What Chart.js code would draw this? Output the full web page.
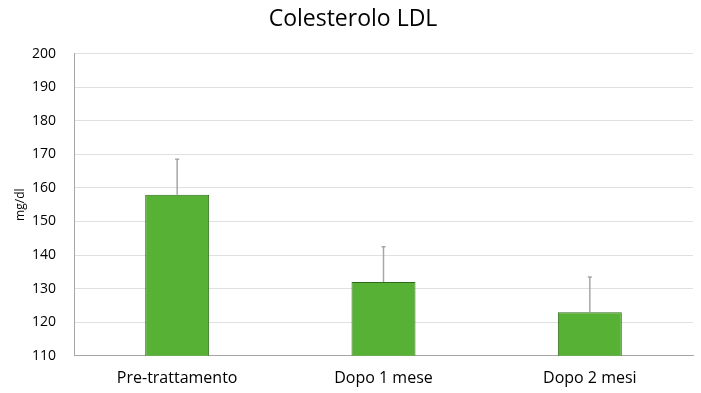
<!DOCTYPE html>
<html>
<head>
<meta charset="utf-8">
<script src="https://cdn.jsdelivr.net/npm/chart.js@4/dist/chart.umd.min.js"></script>
<style>
  html, body { margin: 0; padding: 0; background: #fff; }
  #wrap { width: 701px; height: 393px; }
</style>
</head>
<body>
<div id="wrap"><canvas id="chart"></canvas></div>
<script>
var categories = ['Pre-trattamento', 'Dopo 1 mese', 'Dopo 2 mesi'];
var values = [158, 132, 123];
var errors = [10.5, 10.5, 10.5];

// draws the upper error whiskers using the y scale
var errorBars = {
  id: 'errorBars',
  afterDatasetsDraw: function(chart) {
    var ctx = chart.ctx;
    var meta = chart.getDatasetMeta(0);
    var y = chart.scales.y;
    ctx.save();
    ctx.strokeStyle = '#a6a6a6';
    ctx.lineWidth = 1.5;
    meta.data.forEach(function(bar, i) {
      var top = y.getPixelForValue(values[i] + errors[i]);
      ctx.beginPath();
      ctx.moveTo(bar.x, bar.y);
      ctx.lineTo(bar.x, top);
      ctx.moveTo(bar.x - 2, top);
      ctx.lineTo(bar.x + 2, top);
      ctx.stroke();
    });
    ctx.restore();
  }
};

new Chart(document.getElementById('chart'), {
  type: 'bar',
  data: {
    labels: categories,
    datasets: [{
      data: values,
      backgroundColor: '#57b135',
      borderColor: '#2e6b1a',
      borderWidth: 1,
      categoryPercentage: 1,
      barPercentage: 0.31
    }]
  },
  options: {
    responsive: true,
    maintainAspectRatio: false,
    animation: false,
    layout: { padding: { left: 13, right: 8, top: 4, bottom: -8 } },
    plugins: {
      legend: { display: false },
      tooltip: { enabled: false },
      title: {
        display: true,
        text: 'Colesterolo LDL',
        color: '#000',
        font: { family: 'Open Sans', size: 23, weight: 'normal' },
        padding: { top: 2, bottom: 20 }
      }
    },
    scales: {
      x: {
        grid: { display: false, drawTicks: false },
        border: { color: '#a6a6a6' },
        ticks: { color: '#000', font: { family: 'Open Sans', size: 16 }, padding: 13 }
      },
      y: {
        min: 110,
        max: 200,
        afterFit: function(scale) { scale.width = 61; },
        ticks: { stepSize: 10, color: '#000', font: { family: 'Open Sans', size: 14 }, padding: 18 },
        grid: { color: '#e0e0e0', drawTicks: false },
        border: { color: '#a6a6a6' },
        title: {
          display: true,
          text: 'mg/dl',
          color: '#000',
          font: { family: 'Open Sans', size: 12 },
          padding: 0
        }
      }
    }
  },
  plugins: [errorBars]
});
</script>
</body>
</html>
